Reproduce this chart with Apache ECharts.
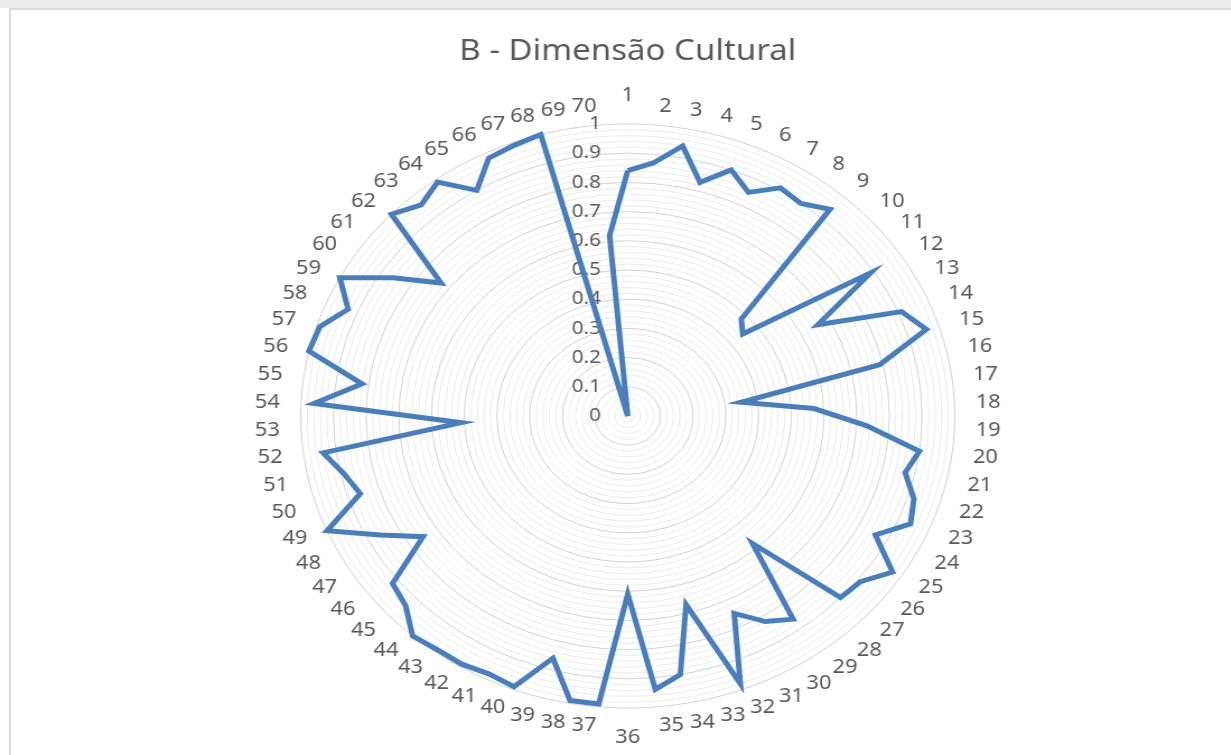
<!DOCTYPE html>
<html>
<head>
<meta charset="utf-8">
<title>B - Dimensão Cultural</title>
<script src="https://cdn.jsdelivr.net/npm/echarts@6.0.0/dist/echarts.min.js"></script>
<style>
  html, body { margin: 0; padding: 0; width: 1231px; height: 755px; overflow: hidden; background: #ffffff; }
  #band { position: absolute; left: 0; top: 0; width: 1231px; height: 8px; background: #ececec; }
  #frame { position: absolute; left: 9px; top: 8px; width: 1240px; height: 770px;
           border-left: 2px solid #d9d9d9; border-top: 2px solid #d9d9d9; box-sizing: border-box; }
  /* plot is drawn in a narrower box and widened so the rings come out as ellipses */
  #chart { position: absolute; left: 0; top: 0; width: 1121px; height: 755px;
           transform: scaleX(1.12); transform-origin: 0 0; }
</style>
</head>
<body>
<div id="band"></div>
<div id="frame"></div>
<div id="chart"></div>
<script>
// Question numbers around the radar
const categories = [];
for (let i = 1; i <= 70; i++) categories.push(String(i));

// Score per question (0 – 1)
const scores = [
  0.84, 0.87, 0.94, 0.83, 0.90, 0.85, 0.91, 0.90, 0.94, 0.48,
  0.45, 0.89, 0.66, 0.91, 0.96, 0.79, 0.35, 0.57, 0.73, 0.90,
  0.87, 0.92, 0.94, 0.86, 0.97, 0.91, 0.90, 0.58, 0.86, 0.82,
  0.75, 0.98, 0.67, 0.90, 0.94, 0.61, 0.99, 0.99, 0.86, 0.99,
  0.98, 0.99, 0.99, 1.00, 0.94, 0.92, 0.75, 0.86, 1.00, 0.86,
  0.89, 0.94, 0.51, 0.96, 0.82, 1.00, 0.99, 0.93, 1.00, 0.86,
  0.73, 1.00, 0.96, 0.99, 0.90, 0.98, 0.99, 1.00, 0.00, 0.62
];

// Labels of the radial value axis (major rings)
const tickLabels = ['0', '0.1', '0.2', '0.3', '0.4', '0.5', '0.6', '0.7', '0.8', '0.9', '1'];

const FONT = 'Noto Sans';
const TEXT_GREY = '#595959';
const RINGS_PER_MAJOR = 5;             // minor rings every 0.02
const RING_COUNT = (tickLabels.length - 1) * RINGS_PER_MAJOR;

// ECharts radar runs counter-clockwise; walk the questions backwards after the
// first one so they read clockwise from the top.
const order = [0];
for (let i = categories.length - 1; i >= 1; i--) order.push(i);

const indicators = order.map(function (idx, k) {
  const ind = { name: categories[idx], min: 0, max: 1 };
  if (k === 0) {
    ind.axisLabel = {
      show: true,
      color: TEXT_GREY,
      fontFamily: FONT,
      fontSize: 18.5,
      margin: 24,
      formatter: function (v) {
        const step = Math.round(v * RING_COUNT);
        return step % RINGS_PER_MAJOR === 0 ? tickLabels[step / RINGS_PER_MAJOR] : '';
      }
    };
  }
  return ind;
});
const values = order.map(function (idx) { return scores[idx]; });

const ringColors = ['#d2d2d2'];
for (let i = 1; i < RINGS_PER_MAJOR; i++) ringColors.push('#ebebeb');

const chart = echarts.init(document.getElementById('chart'), null, { renderer: 'canvas' });
chart.setOption({
  animation: false,
  title: {
    text: 'B - Dimensão Cultural',
    left: 'center',
    top: 32,
    textStyle: { fontFamily: FONT, fontSize: 29.5, fontWeight: 'normal', color: TEXT_GREY }
  },
  radar: {
    center: ['50%', 416],
    radius: 292,
    startAngle: 90,
    shape: 'circle',
    splitNumber: RING_COUNT,
    nameGap: 19,
    axisName: { color: TEXT_GREY, fontFamily: FONT, fontSize: 19.5 },
    axisLine: { show: false },
    axisTick: { show: false },
    axisLabel: { show: false },
    splitLine: { lineStyle: { color: ringColors, width: 1 } },
    splitArea: { show: false },
    indicator: indicators
  },
  series: [{
    type: 'radar',
    symbol: 'none',
    lineStyle: { color: '#4A7EBB', width: 5, join: 'miter' },
    data: [{ value: values, name: 'B - Dimensão Cultural' }]
  }]
});
</script>
</body>
</html>
